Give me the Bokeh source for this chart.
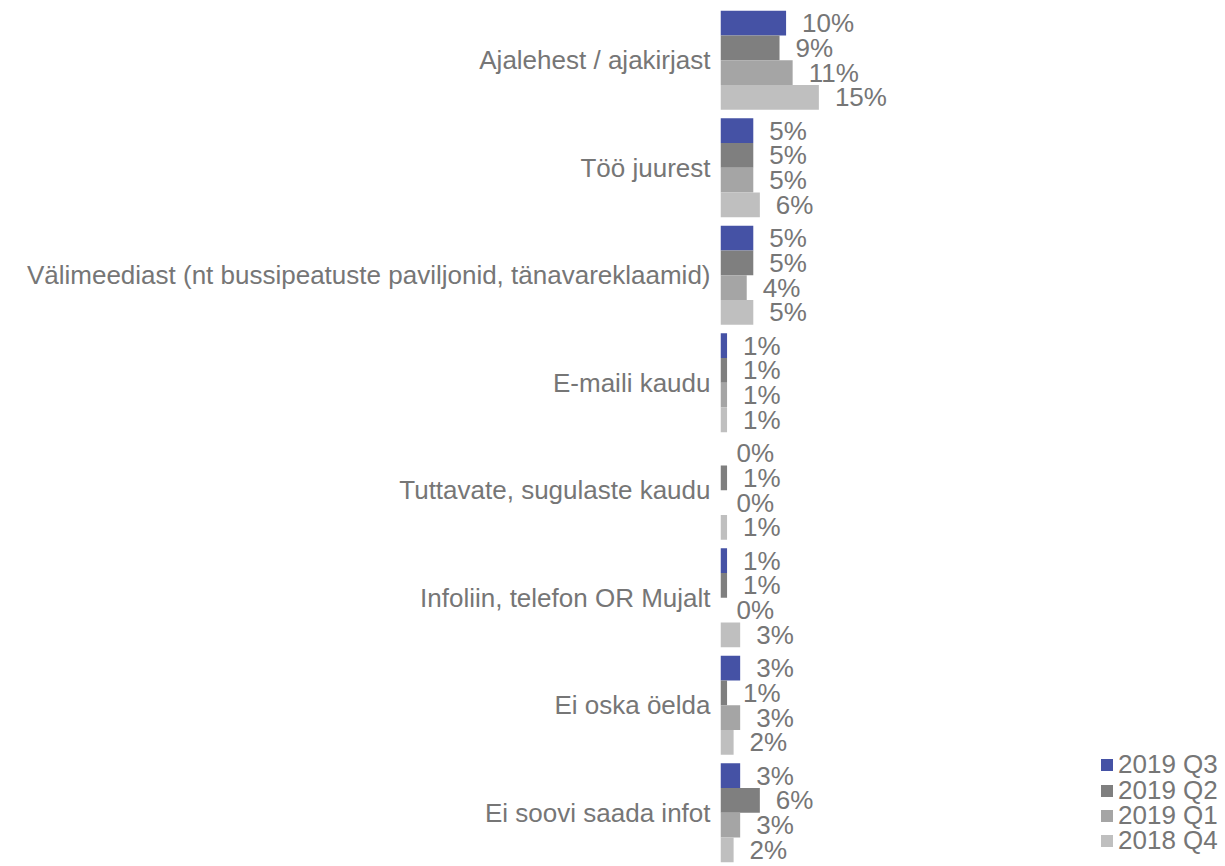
from bokeh.plotting import figure
from bokeh.models import FactorRange, Range1d, ColumnDataSource, Legend, LegendItem
from bokeh.transform import dodge
from bokeh.core.properties import value
from bokeh.embed import file_html
from bokeh.resources import INLINE

categories = [
    "Ajalehest / ajakirjast",
    "Töö juurest",
    "Välimeediast (nt bussipeatuste paviljonid, tänavareklaamid)",
    "E-maili kaudu",
    "Tuttavate, sugulaste kaudu",
    "Infoliin, telefon OR Mujalt",
    "Ei oska öelda",
    "Ei soovi saada infot",
]
series_names = ["2019 Q3", "2019 Q2", "2019 Q1", "2018 Q4"]
q3_2019 = [10, 5, 5, 1, 0, 1, 3, 3]
q2_2019 = [9, 5, 5, 1, 1, 1, 1, 6]
q1_2019 = [11, 5, 4, 1, 0, 0, 3, 3]
q4_2018 = [15, 6, 5, 1, 1, 3, 2, 2]

series_values = [q3_2019, q2_2019, q1_2019, q4_2018]
colors = ["#4552A5", "#7F7F7F", "#A5A5A5", "#BFBFBF"]
offsets = [0.346, 0.115, -0.115, -0.346]
legend_y = [86, 60, 35, 10]
bar_h = 0.231
text_color = "#767676"
font = "Liberation Sans"

p = figure(
    width=1225, height=866,
    y_range=FactorRange(factors=list(reversed(categories))),
    x_range=Range1d(0, 77.0),
    x_axis_location=None,
    output_backend="svg", toolbar_location=None,
    min_border_left=720, min_border_right=0, min_border_top=6, min_border_bottom=0,
)
p.outline_line_color = None
p.grid.visible = False
p.background_fill_color = "white"

yax = p.yaxis[0]
yax.axis_line_color = None
yax.major_tick_line_color = None
yax.minor_tick_line_color = None
yax.major_label_text_font_size = "26px"
yax.major_label_text_font = font
yax.major_label_text_color = text_color
yax.major_label_standoff = 4

for name, vals, col, off, ly in zip(series_names, series_values, colors, offsets, legend_y):
    src = ColumnDataSource(dict(cat=categories, v=vals, lab=[f"{v}%" for v in vals]))
    r = p.hbar(y=dodge("cat", off, range=p.y_range), right="v", left=0, height=bar_h,
               fill_color=col, line_color=None, source=src)
    p.text(x="v", y=dodge("cat", off, range=p.y_range), text="lab", source=src,
           x_offset=16, text_baseline="middle", text_align="left",
           text_font=value(font), text_font_size="26px", text_color=text_color)
    leg = Legend(items=[LegendItem(label=name, renderers=[r])], location=(379, ly),
                 orientation="vertical",
                 glyph_width=15, glyph_height=15, label_height=25,
                 label_text_font=font, label_text_font_size="26px",
                 label_text_color=text_color,
                 label_standoff=4, spacing=0, padding=0, margin=0,
                 border_line_color=None, background_fill_alpha=0)
    p.add_layout(leg)

open("out.html", "w").write(file_html(p, INLINE))
